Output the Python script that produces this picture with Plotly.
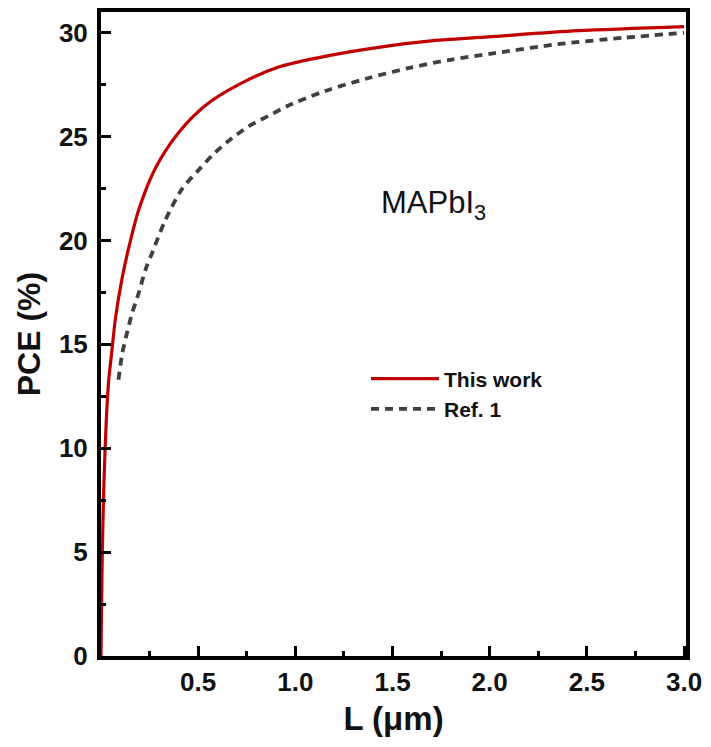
import plotly.graph_objects as go

# Data
L_this = [0, 0.003, 0.007, 0.015, 0.028, 0.040, 0.055, 0.075, 0.109, 0.144, 0.195, 0.281,
          0.40, 0.537, 0.708, 0.914, 1.171, 1.428, 1.685, 1.993, 2.455, 3.0]
PCE_this = [0, 2.5, 5.1, 8.3, 11.5, 13.3, 14.6, 16.3, 18.2, 19.7, 21.5, 23.5,
            25.2, 26.5, 27.5, 28.35, 28.9, 29.3, 29.6, 29.8, 30.1, 30.3]

L_ref = [0.09, 0.11, 0.135, 0.16, 0.195, 0.229, 0.263, 0.332, 0.418, 0.503, 0.572, 0.657,
         0.76, 0.862, 0.965, 1.154, 1.368, 1.582, 1.796, 2.01, 2.35, 2.69, 3.0]
PCE_ref = [13.3, 14.6, 15.6, 16.5, 17.5, 18.6, 19.4, 21.0, 22.5, 23.4, 24.1, 24.8,
           25.5, 26.0, 26.5, 27.2, 27.8, 28.3, 28.7, 29.0, 29.45, 29.76, 30.0]

x_ticks = [0.5, 1.0, 1.5, 2.0, 2.5, 3.0]
x_ticklabels = ["0.5", "1.0", "1.5", "2.0", "2.5", "3.0"]
y_ticks = [0, 5, 10, 15, 20, 25, 30]

FONT = "Liberation Sans, Arial, sans-serif"

fig = go.Figure()
fig.add_trace(go.Scatter(x=L_this, y=PCE_this, mode="lines", name="<b>This work</b>",
                         line=dict(color="#C00000", width=3.2, shape="spline", smoothing=0.8)))
fig.add_trace(go.Scatter(x=L_ref, y=PCE_ref, mode="lines", name="<b>Ref. 1</b>",
                         line=dict(color="#404040", width=3.8, dash="8px,6px", shape="spline", smoothing=0.8)))

fig.add_annotation(x=1.71, y=21.7, xref="x", yref="y", text="MAPbI<sub>3</sub>",
                   showarrow=False, font=dict(family=FONT, size=31, color="#111111"))

axis_common = dict(showline=True, linecolor="black", linewidth=4, mirror=True,
                   ticks="inside", ticklen=10, tickwidth=3, tickcolor="black",
                   showgrid=False, zeroline=False,
                   tickfont=dict(family=FONT, size=26, color="#111111"))

fig.update_xaxes(range=[0, 3.01], tickvals=x_ticks, ticktext=[f"<b>{t}</b>" for t in x_ticklabels],
                 minor=dict(dtick=0.25, tick0=0, ticks="inside", ticklen=5, tickwidth=3, tickcolor="black"),
                 title=dict(text="<b>L (μm)</b>", font=dict(family=FONT, size=33, color="#111111"), standoff=12),
                 **axis_common)
fig.update_yaxes(range=[0, 31.0], tickvals=y_ticks, ticktext=[f"<b>{t}</b>" for t in y_ticks],
                 minor=dict(dtick=2.5, tick0=0, ticks="inside", ticklen=5, tickwidth=3, tickcolor="black"),
                 title=dict(text="<b>PCE (%)</b>", font=dict(family=FONT, size=32, color="#111111"), standoff=10),
                 ticklabelstandoff=4,
                 **axis_common)

fig.update_layout(
    width=703, height=731,
    margin=dict(l=93, r=25, t=4, b=83, autoexpand=False),
    plot_bgcolor="white", paper_bgcolor="white",
    font=dict(family=FONT, color="#111111"),
    legend=dict(x=0.453, y=0.462, xanchor="left", yanchor="top",
                bgcolor="rgba(0,0,0,0)", font=dict(family=FONT, size=21, color="#111111"),
                itemwidth=68, tracegroupgap=0),
)

fig.write_html("out.html")
